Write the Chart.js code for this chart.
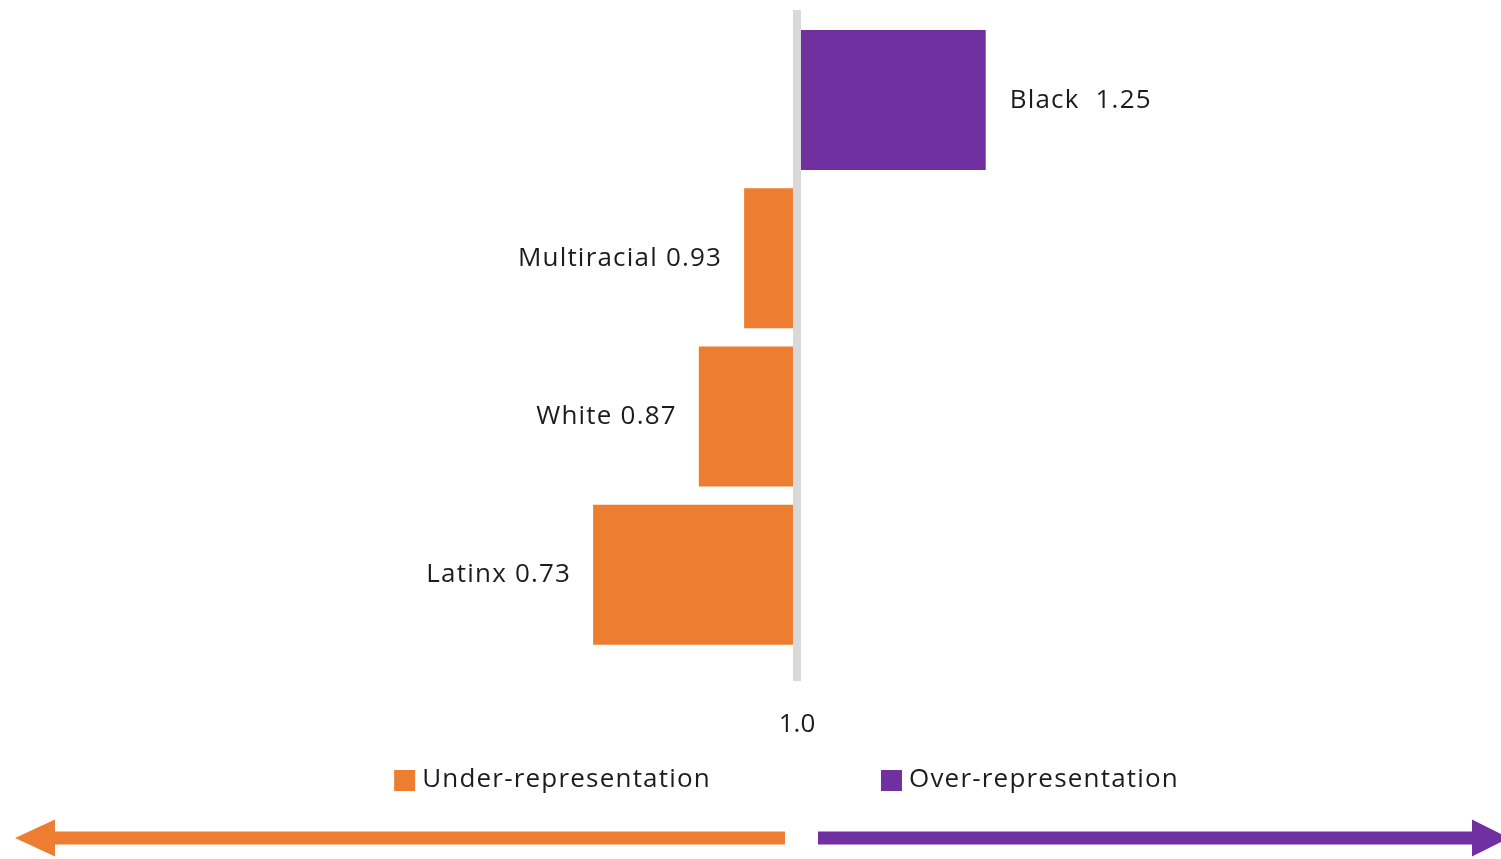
<!DOCTYPE html>
<html>
<head>
<meta charset="utf-8">
<script src="https://cdn.jsdelivr.net/npm/chart.js@4.4.1/dist/chart.umd.min.js"></script>
<style>
  html, body { margin: 0; padding: 0; background: #ffffff; }
  #wrap { width: 1501px; height: 859px; position: relative; }
</style>
</head>
<body>
<div id="wrap"><canvas id="c" width="1501" height="859"></canvas></div>
<script>
// ---- Data ----
const categories = ['Black', 'Multiracial', 'White', 'Latinx'];
const ratios = [1.25, 0.93, 0.87, 0.73];
const baseline = 1.0;
const seriesNames = ['Under-representation', 'Over-representation'];
const axisTickValues = [1.0];

const ORANGE = '#ED7D31';
const PURPLE = '#7030A0';
const TEXT = '#1c1c1c';
const FONT = '"Open Sans", sans-serif';
const FSIZE = 26;
const LSP = '1.2px';

const underData = ratios.map(v => v < baseline ? [baseline, v] : null);
const overData = ratios.map(v => v >= baseline ? [baseline, v] : null);

const decorPlugin = {
  id: 'decor',
  afterDatasetsDraw(chart) {
    const ctx = chart.ctx;
    const xs = chart.scales.x;
    const px1 = xs.getPixelForValue(baseline);

    // value labels
    ctx.save();
    ctx.font = FSIZE + 'px ' + FONT;
    try { ctx.letterSpacing = LSP; } catch (e) {}
    ctx.fillStyle = TEXT;
    ctx.textBaseline = 'middle';
    chart.data.datasets.forEach((ds, di) => {
      const meta = chart.getDatasetMeta(di);
      meta.data.forEach((bar, i) => {
        if (ds.data[i] == null) return;
        const v = ratios[i];
        const sep = v >= baseline ? '  ' : ' ';
        const txt = categories[i] + sep + v.toFixed(2);
        const lo = Math.min(bar.x, bar.base);
        const hi = Math.max(bar.x, bar.base);
        if (v >= baseline) {
          ctx.textAlign = 'left';
          ctx.fillText(txt, hi + 24, bar.y);
        } else {
          ctx.textAlign = 'right';
          ctx.fillText(txt, lo - 22, bar.y);
        }
      });
    });
    ctx.restore();

    // baseline reference line
    ctx.save();
    ctx.fillStyle = '#D9D9D9';
    ctx.fillRect(px1 - 4, 10, 8, 671);
    ctx.restore();
  },
  afterDraw(chart) {
    const ctx = chart.ctx;
    const xs = chart.scales.x;
    const px1 = xs.getPixelForValue(baseline);
    const W = chart.width;

    // custom legend
    ctx.save();
    ctx.font = FSIZE + 'px ' + FONT;
    try { ctx.letterSpacing = LSP; } catch (e) {}
    ctx.textBaseline = 'middle';
    ctx.textAlign = 'left';
    const ly = 780;
    const underW = ctx.measureText(seriesNames[0]).width;
    const underTextEnd = px1 - 86;
    const underTextStart = underTextEnd - underW;
    ctx.fillStyle = ORANGE;
    ctx.fillRect(underTextStart - 28, ly - 10, 21, 21);
    ctx.fillStyle = TEXT;
    ctx.fillText(seriesNames[0], underTextStart, ly);
    const overBox = px1 + 84;
    ctx.fillStyle = PURPLE;
    ctx.fillRect(overBox, ly - 10, 21, 21);
    ctx.fillStyle = TEXT;
    ctx.fillText(seriesNames[1], overBox + 28, ly);
    ctx.restore();

    // arrows
    const ay = 838, half = 6.5, head = 18.5;
    ctx.save();
    ctx.fillStyle = ORANGE;
    ctx.beginPath();
    ctx.moveTo(px1 - 12, ay - half);
    ctx.lineTo(55, ay - half);
    ctx.lineTo(55, ay - head);
    ctx.lineTo(15, ay);
    ctx.lineTo(55, ay + head);
    ctx.lineTo(55, ay + half);
    ctx.lineTo(px1 - 12, ay + half);
    ctx.closePath();
    ctx.fill();
    ctx.fillStyle = PURPLE;
    ctx.beginPath();
    ctx.moveTo(px1 + 21, ay - half);
    ctx.lineTo(W - 29, ay - half);
    ctx.lineTo(W - 29, ay - head);
    ctx.lineTo(W + 8, ay);
    ctx.lineTo(W - 29, ay + head);
    ctx.lineTo(W - 29, ay + half);
    ctx.lineTo(px1 + 21, ay + half);
    ctx.closePath();
    ctx.fill();
    ctx.restore();
  }
};

new Chart(document.getElementById('c'), {
  type: 'bar',
  data: {
    labels: categories,
    datasets: [
      { label: seriesNames[0], data: underData, backgroundColor: ORANGE, borderWidth: 0,
        grouped: false, categoryPercentage: 1, barPercentage: 0.885 },
      { label: seriesNames[1], data: overData, backgroundColor: PURPLE, borderWidth: 0,
        grouped: false, categoryPercentage: 1, barPercentage: 0.885 }
    ]
  },
  options: {
    indexAxis: 'y',
    responsive: false,
    animation: false,
    layout: { padding: { top: 21, bottom: 64, left: 0, right: 0 } },
    plugins: {
      legend: { display: false },
      tooltip: { enabled: false }
    },
    scales: {
      y: {
        display: false
      },
      x: {
        min: -0.0556,
        max: 1.9325,
        grid: { display: false, drawTicks: false },
        border: { display: false },
        afterBuildTicks: (scale) => { scale.ticks = axisTickValues.map(v => ({ value: v })); },
        ticks: {
          padding: 55,
          color: TEXT,
          font: { family: '"Open Sans", sans-serif', size: FSIZE },
          maxRotation: 0,
          autoSkip: false,
          callback: (v) => Number(v).toFixed(1)
        }
      }
    }
  },
  plugins: [decorPlugin]
});
</script>
</body>
</html>
